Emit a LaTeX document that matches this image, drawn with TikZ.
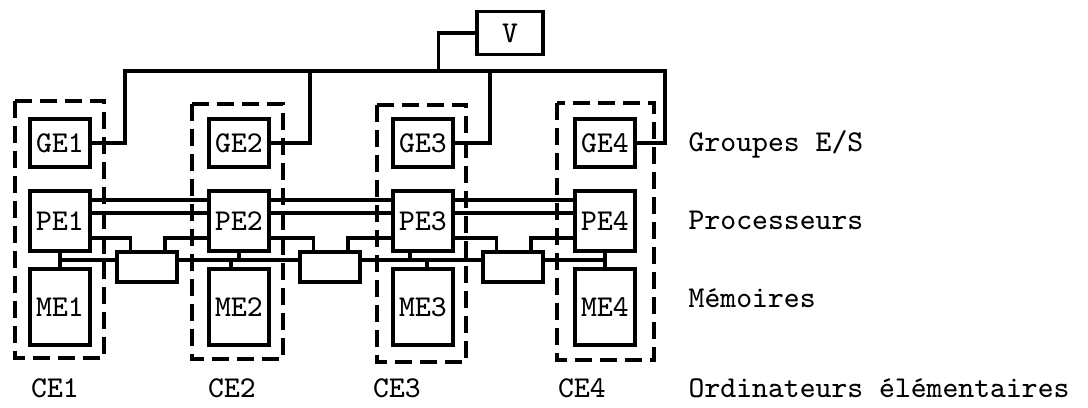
\documentclass[tikz,border=0pt]{standalone}
\usepackage{fontspec}
\usetikzlibrary{positioning}
\tikzset{
    unit/.style={rectangle, draw=black, line width=0.35mm, inner sep=0pt, font=\ttfamily\fontsize{8.6}{10}\selectfont},
    gebox/.style={unit, minimum width=6mm, minimum height=4.8mm},
    pebox/.style={unit, minimum width=6mm, minimum height=6mm},
    mebox/.style={unit, minimum width=6mm, minimum height=7.6mm},
    swbox/.style={unit, minimum width=6mm, minimum height=3mm},
    cebox/.style={draw=black, line width=0.35mm, dash pattern=on 1.7mm off 0.8mm},
    wire/.style={draw=black, line width=0.35mm},
    lbl/.style={font=\ttfamily\fontsize{8.6}{10}\selectfont, inner sep=0pt}
}

\begin{document}
\begin{tikzpicture}[x=0.1mm, y=-0.1mm]
    \useasboundingbox (0,0) rectangle (1088,408);

    % elementary computers
    \foreach \i/\x in {1/60, 2/239, 3/423, 4/605} {
        \node[gebox] (ge\i) at (\x,143) {GE\i};
        \node[pebox] (pe\i) at (\x,221) {PE\i};
        \node[mebox] (me\i) at (\x,307) {ME\i};
    }
    \foreach \l/\t/\r/\b in {15/101/104/358, 192/104/283/359, 377/105/466/362, 557/103/654/360}
        \draw[cebox] (\l,\t) rectangle (\r,\b);

    % I/O bus and V
    \node[unit, minimum width=6.6mm, minimum height=4.3mm] (v) at (510,33) {V};
    \coordinate (busL) at (125,71);
    \coordinate (busR) at (665,71);
    \draw[wire] (ge1.east) -| (busL) -- (busR) |- (ge4.east);
    \draw[wire] (ge2.east) -- ++(39,0) |- (busL);
    \draw[wire] (ge3.east) -- ++(35,0) |- (busL);
    \draw[wire] (v.west) -- ++(-37,0) |- (busL);

    % switches
    \foreach \i/\x in {1/147, 2/330, 3/513} {
        \node[swbox] (sw\i) at (\x,267) {};
        \coordinate (in\i) at ([yshift=0.7mm]sw\i.west);
        \coordinate (out\i) at ([yshift=0.7mm]sw\i.east);
    }

    % processor links
    \foreach \a/\b in {1/2, 2/3, 3/4} {
        \draw[wire] ([yshift=2.1mm]pe\a.east) -- ([yshift=2.1mm]pe\b.west);
        \draw[wire] ([yshift=0.8mm]pe\a.east) -- ([yshift=0.8mm]pe\b.west);
        \draw[wire] ([yshift=-1.7mm]pe\a.east) -| ([xshift=1.5mm]sw\a.north west);
        \draw[wire] ([yshift=-1.7mm]pe\b.west) -| ([xshift=-1.4mm]sw\a.north east);
    }

    % memory bus
    \draw[wire] (pe1.south |- in1) -- (in1);
    \draw[wire] (out1) -- (in2);
    \draw[wire] (out2) -- (in3);
    \draw[wire] (out3) -- (pe4.south |- out3);
    \draw[wire] (pe1.south) -- (me1.north);
    \draw[wire] (pe4.south) -- (me4.north);
    \draw[wire] (pe2.south) -- (pe2.south |- in1);
    \draw[wire] ([xshift=-0.8mm]me2.north) -- ([xshift=-0.8mm]me2.north |- in1);
    \draw[wire] ([xshift=-1.3mm]pe3.south) -- ([xshift=-1.3mm]pe3.south |- in2);
    \draw[wire] ([xshift=0.4mm]me3.north) -- ([xshift=0.4mm]me3.north |- in2);

    % labels
    \node[lbl, anchor=base west] (grp) at (688,152) {Groupes E/S};
    \node[lbl, anchor=base west] (proc) at (688,230) {Processeurs};
    \node[lbl, anchor=base west] (mem) at (688,308) {Mémoires};
    \node[lbl, anchor=base west] (ord) at (688,398) {Ordinateurs élémentaires};
    \foreach \i/\x in {1/55, 2/232, 3/397, 4/582}
        \node[lbl, anchor=base] (ce\i) at (\x,398) {CE\i};
\end{tikzpicture}
\end{document}
